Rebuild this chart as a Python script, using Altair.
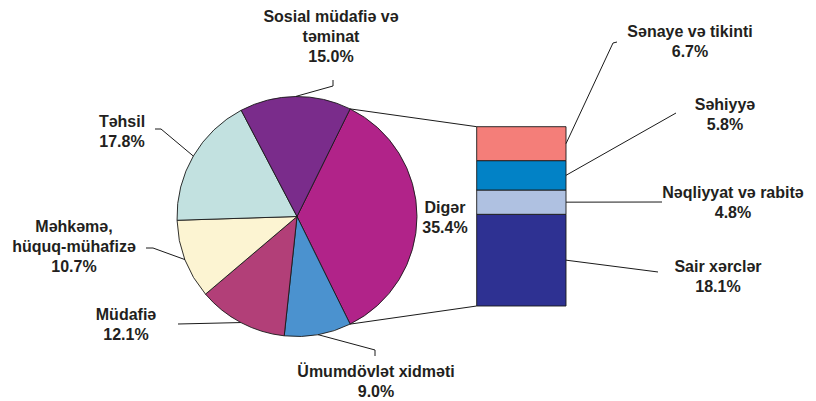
import math
import altair as alt
import pandas as pd

# ---------------- data ----------------
pie_labels = ["Digər", "Ümumdövlət xidməti", "Müdafiə", "Məhkəmə, hüquq-mühafizə",
              "Təhsil", "Sosial müdafiə və təminat"]
pie_text = ["Digər", "Ümumdövlət xidməti", "Müdafiə", "Məhkəmə,\nhüquq-mühafizə",
            "Təhsil", "Sosial müdafiə və\ntəminat"]
pie_values = [35.4, 9.0, 12.1, 10.7, 17.8, 15.0]
pie_colors = ["#B12389", "#4B92CF", "#B23F78", "#FCF4D2", "#C2E1E0", "#7A2C8B"]

bar_labels = ["Sair xərclər", "Nəqliyyat və rabitə", "Səhiyyə", "Sənaye və tikinti"]
bar_values = [18.1, 4.8, 5.8, 6.7]
bar_colors = ["#2E3192", "#AFC1E1", "#0282C6", "#F47E79"]

# ---------------- layout (chart pixel coords) ----------------
M = 8  # page margin
CX, CY, R = 297 - M, 216.5 - M, 120
BX0, BX1 = 476.7 - M, 566 - M
BY_TOP, BY_BOT = 126.7 - M, 306 - M

# label anchor (centre x, first line y) per label, page coords
pie_label_pos = {
    "Digər": (445, 208),
    "Ümumdövlət xidməti": (376, 372),
    "Müdafiə": (126, 315),
    "Məhkəmə, hüquq-mühafizə": (74, 227),
    "Təhsil": (122, 122),
    "Sosial müdafiə və təminat": (331, 16.5),
}
# leader line points after the pie edge point (page coords)
pie_leader_pts = {
    "Ümumdövlət xidməti": [(375, 350), (375, 356)],
    "Müdafiə": [(178, 324)],
    "Məhkəmə, hüquq-mühafizə": [(153, 248), (146, 248)],
    "Təhsil": [(161, 129), (155, 129)],
    "Sosial müdafiə və təminat": [(333, 86), (333, 80)],
}
bar_label_pos = {
    "Sair xərclər": (718, 267),
    "Nəqliyyat və rabitə": (733, 193),
    "Səhiyyə": (725, 105),
    "Sənaye və tikinti": (690, 32),
}
bar_leader_pts = {
    "Sair xərclər": [(658, 272)],
    "Nəqliyyat və rabitə": [(662, 202)],
    "Səhiyyə": [(676, 113)],
    "Sənaye və tikinti": [(613, 43), (617, 42)],
}

# ---------------- derived geometry ----------------
total = sum(pie_values)
start = math.radians(90) - math.pi * pie_values[0] / total  # centre "Digər" at 3 o'clock

pie_df = pd.DataFrame({"label": pie_labels, "value": pie_values, "order": range(len(pie_labels))})

segs = []
texts = []
cum = 0.0
for lab, txt, v in zip(pie_labels, pie_text, pie_values):
    mid = start + 2 * math.pi * (cum + v / 2) / total
    cum += v
    ex, ey = CX + R * math.sin(mid), CY - R * math.cos(mid)
    pts = [(ex, ey)] + [(px - M, py - M) for px, py in pie_leader_pts.get(lab, [])]
    if len(pts) > 1:
        for (a, b), (c, d) in zip(pts[:-1], pts[1:]):
            segs.append({"x": a, "y": b, "x2": c, "y2": d})
    lx, ly = pie_label_pos[lab]
    texts.append({"x": lx - M, "y": ly - M, "t": f"{txt}\n{v:.1f}%"})

bar_total = sum(bar_values)
cum = 0.0
for lab, v in zip(bar_labels, bar_values):
    midy = BY_BOT - (cum + v / 2) / bar_total * (BY_BOT - BY_TOP)
    cum += v
    pts = [(BX1, midy)] + [(px - M, py - M) for px, py in bar_leader_pts[lab]]
    for (a, b), (c, d) in zip(pts[:-1], pts[1:]):
        segs.append({"x": a, "y": b, "x2": c, "y2": d})
    lx, ly = bar_label_pos[lab]
    texts.append({"x": lx - M, "y": ly - M, "t": f"{lab}\n{v:.1f}%"})

# connectors from the "Digər" slice to the bar
a0 = start
a1 = start + 2 * math.pi * pie_values[0] / total
segs.append({"x": CX + R * math.sin(a0), "y": CY - R * math.cos(a0), "x2": BX0, "y2": BY_TOP})
segs.append({"x": CX + R * math.sin(a1), "y": CY - R * math.cos(a1), "x2": BX0, "y2": BY_BOT})

seg_df = pd.DataFrame(segs)
text_df = pd.DataFrame(texts)
bar_df = pd.DataFrame({"label": bar_labels, "value": bar_values, "order": range(len(bar_labels))})

# ---------------- chart ----------------
pie = alt.Chart(pie_df).transform_joinaggregate(
    tot="sum(value)"
).transform_window(
    cum="sum(value)", sort=[alt.SortField("order")]
).transform_calculate(
    t1=f"{start} + 2*PI*datum.cum/datum.tot",
    t0=f"{start} + 2*PI*(datum.cum - datum.value)/datum.tot",
).mark_arc(outerRadius=R, stroke="#1a1a1a", strokeWidth=0.9).encode(
    theta=alt.Theta("t0:Q", scale=None, stack=None),
    theta2="t1:Q",
    color=alt.Color("label:N", scale=alt.Scale(domain=pie_labels, range=pie_colors), legend=None),
    x=alt.value(CX),
    y=alt.value(CY),
)

H = BY_BOT - BY_TOP
bar = alt.Chart(bar_df).transform_joinaggregate(
    tot="sum(value)"
).transform_window(
    cum="sum(value)", sort=[alt.SortField("order")]
).transform_calculate(
    y0=f"{BY_BOT} - (datum.cum - datum.value)/datum.tot*{H}",
    y1=f"{BY_BOT} - datum.cum/datum.tot*{H}",
).mark_bar(stroke="#1a1a1a", strokeWidth=0.9).encode(
    x=alt.value(BX0),
    x2=alt.value(BX1),
    y=alt.Y("y0:Q", scale=None),
    y2="y1:Q",
    color=alt.Color("label:N", scale=alt.Scale(domain=bar_labels, range=bar_colors), legend=None),
)

rules = alt.Chart(seg_df).mark_rule(color="#1a1a1a", strokeWidth=1).encode(
    x=alt.X("x:Q", scale=None), y=alt.Y("y:Q", scale=None),
    x2="x2:Q", y2="y2:Q",
)

labels = alt.Chart(text_df).mark_text(
    font="Liberation Sans", fontWeight="bold", fontSize=16, lineBreak="\n",
    lineHeight=20, align="center", baseline="middle", color="#231F20",
).encode(
    x=alt.X("x:Q", scale=None), y=alt.Y("y:Q", scale=None), text="t:N",
)

chart = alt.layer(pie, bar, rules, labels).resolve_scale(
    color="independent"
).properties(
    width=800, height=393, padding=0,
    autosize=alt.AutoSizeParams(type="none"),
).configure_view(stroke=None)

chart.save("out.html", embed_options={"renderer": "svg", "actions": False})
